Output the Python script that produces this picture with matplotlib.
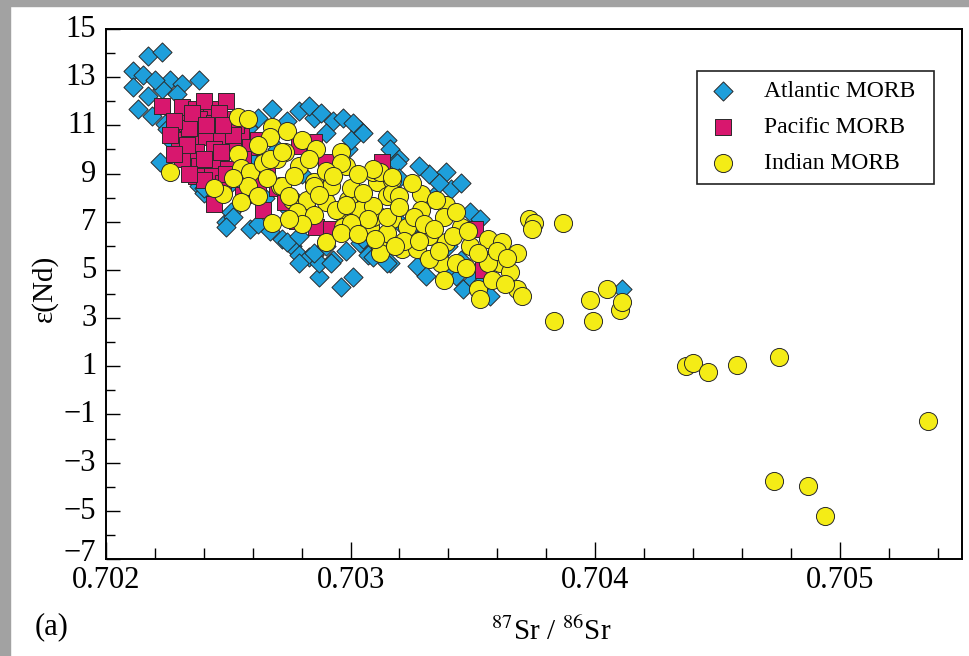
import numpy as np
import matplotlib
matplotlib.use("Agg")
import matplotlib.pyplot as plt
from matplotlib.patches import Rectangle
from matplotlib.transforms import ScaledTranslation
from matplotlib.ticker import MultipleLocator, FixedLocator, FormatStrFormatter

plt.rcParams['font.family'] = ['Liberation Serif', 'DejaVu Serif']
plt.rcParams['mathtext.fontset'] = 'stix'

# 87Sr/86Sr vs eps(Nd) for MORB, by ocean basin
atlantic = [
    (0.70217, 13.9), (0.70223, 14.05), (0.70211, 13.25), (0.70215, 13.1), (0.70226, 12.9),
    (0.70231, 12.7), (0.70238, 12.9), (0.70211, 12.6), (0.70217, 12.2), (0.70223, 12.5),
    (0.70213, 11.7), (0.70219, 11.4), (0.70224, 11.05), (0.70222, 9.47), (0.70238, 8.5),
    (0.70225, 10.85), (0.70227, 10.3), (0.70240, 8.2), (0.70220, 12.9), (0.70229, 12.3),
    (0.70249, 7.0), (0.70251, 7.4), (0.70259, 6.7), (0.70240, 8.4), (0.70252, 7.2), (0.70249, 6.8),
    (0.70268, 11.7), (0.70279, 11.6), (0.70285, 11.3), (0.70293, 11.2), (0.70297, 11.3),
    (0.70304, 10.8), (0.70315, 10.4), (0.70316, 10.0), (0.70299, 10.0), (0.70301, 11.1),
    (0.70300, 10.4), (0.70305, 10.7), (0.70320, 9.6), (0.70319, 9.45), (0.70274, 11.2),
    (0.70283, 11.8), (0.70290, 10.7), (0.70262, 11.3), (0.70258, 10.9), (0.70288, 11.5),
    (0.70332, 8.97), (0.70339, 9.05), (0.70341, 8.35), (0.70334, 8.05), (0.70349, 7.4),
    (0.70353, 7.1), (0.70324, 6.7), (0.70345, 8.6), (0.70328, 9.3), (0.70336, 8.6),
    (0.70272, 6.3), (0.70276, 6.0), (0.70279, 5.6), (0.70285, 5.6), (0.70287, 4.7),
    (0.70296, 4.3), (0.70301, 4.7), (0.70293, 5.4), (0.70316, 5.3), (0.70307, 5.6),
    (0.70274, 6.15), (0.70279, 6.4), (0.70283, 5.55), (0.70279, 5.3), (0.70287, 5.3),
    (0.70292, 5.3), (0.70309, 5.55), (0.70285, 5.7), (0.70315, 5.3), (0.70267, 6.6),
    (0.70262, 6.9), (0.70290, 6.0), (0.70298, 5.8), (0.70304, 6.1),
    (0.70327, 5.15), (0.70331, 4.75), (0.70343, 4.75), (0.70346, 4.2), (0.70357, 3.9),
    (0.70350, 4.6), (0.70339, 5.0), (0.70336, 5.6), (0.70353, 4.4), (0.70345, 5.4), (0.70355, 5.0),
    (0.70260, 9.5), (0.70270, 10.0), (0.70280, 9.0), (0.70290, 8.5), (0.70300, 8.0),
    (0.70310, 7.5), (0.70320, 7.0), (0.70330, 6.5), (0.70340, 6.0), (0.70265, 8.0),
    (0.70275, 7.5), (0.70285, 7.0), (0.70295, 6.6), (0.70305, 6.3), (0.70245, 9.5),
    (0.70250, 8.5), (0.70330, 7.7), (0.70320, 8.8),
    (0.70411, 4.19),
]

pacific = [
    (0.70223, 11.8), (0.70231, 11.75), (0.70237, 11.7), (0.70243, 11.7), (0.70249, 12.0),
    (0.70233, 11.1), (0.70238, 11.25), (0.70244, 11.1), (0.70251, 11.25), (0.70230, 10.4),
    (0.70236, 10.55), (0.70241, 10.5), (0.70247, 10.4), (0.70255, 10.55), (0.70230, 10.0),
    (0.70237, 9.9), (0.70244, 10.0), (0.70259, 10.1), (0.70231, 9.6), (0.70238, 9.3),
    (0.70245, 9.45), (0.70243, 8.9), (0.70237, 8.9), (0.70244, 7.75), (0.70262, 10.4),
    (0.70252, 10.0), (0.70266, 9.05), (0.70279, 10.15), (0.70285, 10.3), (0.70290, 9.5),
    (0.70313, 9.5), (0.70264, 7.5), (0.70278, 7.05), (0.70286, 6.8), (0.70292, 6.7),
    (0.70240, 8.75), (0.70351, 6.7), (0.70354, 5.0), (0.70250, 9.2), (0.70256, 9.6),
    (0.70248, 8.6), (0.70234, 10.9), (0.70240, 12.0), (0.70228, 11.2), (0.70253, 11.0),
    (0.70260, 9.0), (0.70270, 8.4), (0.70273, 7.8), (0.70282, 7.4), (0.70256, 8.1),
    (0.70262, 8.6), (0.70226, 10.6), (0.70233, 10.2), (0.70240, 9.6), (0.70247, 9.9),
    (0.70252, 10.6), (0.70246, 11.5), (0.70235, 11.5), (0.70241, 11.0), (0.70248, 11.0),
    (0.70228, 9.8), (0.70234, 9.0), (0.70249, 9.0),
]

indian = [
    (0.70226, 9.05),
    (0.70254, 11.35), (0.70258, 11.25), (0.70268, 10.95), (0.70274, 10.75), (0.70267, 10.5),
    (0.70273, 9.9), (0.70296, 9.9), (0.70298, 9.3), (0.70254, 9.8), (0.70255, 9.25),
    (0.70259, 9.05), (0.70264, 9.45), (0.70270, 9.6), (0.70279, 9.3), (0.70285, 8.65),
    (0.70258, 8.5), (0.70262, 8.05), (0.70248, 8.15), (0.70255, 7.8), (0.70271, 8.5),
    (0.70276, 7.9), (0.70282, 7.9), (0.70290, 7.8), (0.70296, 7.4), (0.70301, 7.4),
    (0.70305, 7.8), (0.70311, 8.65), (0.70309, 9.05), (0.70317, 8.75), (0.70315, 8.05),
    (0.70268, 6.95), (0.70290, 6.15), (0.70299, 6.7), (0.70308, 6.8), (0.70312, 5.85),
    (0.70317, 7.1), (0.70267, 9.6), (0.70272, 8.5), (0.70275, 8.05), (0.70278, 7.4),
    (0.70294, 7.5), (0.70297, 6.8), (0.70299, 7.9), (0.70304, 7.5), (0.70309, 7.2),
    (0.70312, 5.7), (0.70315, 6.55), (0.70312, 9.05), (0.70317, 8.2), (0.70296, 9.45),
    (0.70292, 8.5), (0.70272, 9.9),
    (0.70309, 9.2), (0.70317, 8.85), (0.70329, 8.15), (0.70320, 8.05), (0.70339, 7.7),
    (0.70338, 7.2), (0.70345, 6.8), (0.70329, 7.5), (0.70323, 6.8), (0.70315, 7.2),
    (0.70309, 7.65), (0.70307, 7.1), (0.70300, 6.95), (0.70296, 6.55), (0.70321, 5.85),
    (0.70332, 6.4), (0.70339, 6.15), (0.70349, 6.0), (0.70356, 6.3), (0.70362, 6.15),
    (0.70368, 5.7), (0.70361, 5.3), (0.70365, 4.9), (0.70368, 4.2), (0.70370, 3.9),
    (0.70356, 5.3), (0.70352, 4.2), (0.70353, 3.8), (0.70337, 5.3), (0.70338, 4.6),
    (0.70343, 5.3), (0.70327, 5.85), (0.70332, 5.45), (0.70285, 8.5),
    (0.70262, 10.2), (0.70280, 10.4), (0.70286, 10.0), (0.70290, 9.1), (0.70283, 9.6),
    (0.70277, 8.9), (0.70266, 8.8), (0.70252, 8.8), (0.70244, 8.4), (0.70287, 8.1),
    (0.70293, 8.9), (0.70300, 8.4), (0.70303, 9.0), (0.70305, 8.2), (0.70298, 7.7),
    (0.70285, 7.3), (0.70280, 6.9), (0.70275, 7.1), (0.70303, 6.5), (0.70310, 6.3),
    (0.70320, 7.6), (0.70325, 8.6), (0.70326, 7.2), (0.70330, 6.9), (0.70334, 6.7),
    (0.70335, 7.9), (0.70342, 6.4), (0.70343, 7.4), (0.70348, 6.6), (0.70352, 5.7),
    (0.70347, 5.1), (0.70322, 6.2), (0.70318, 6.0), (0.70328, 6.2), (0.70336, 5.8),
    (0.70360, 5.8), (0.70364, 5.5), (0.70358, 4.6), (0.70363, 4.4),
    (0.70373, 7.1), (0.70375, 6.95), (0.70374, 6.7), (0.70387, 6.95),
    (0.70383, 2.86), (0.70399, 2.86), (0.70398, 3.77), (0.70405, 4.19), (0.70410, 3.32),
    (0.70411, 3.65), (0.70437, 1.03), (0.70440, 1.15), (0.70446, 0.78), (0.70458, 1.07),
    (0.70475, 1.40), (0.70473, -3.75), (0.70487, -3.96), (0.70494, -5.21), (0.70536, -1.26),
]

series = [
    ('Atlantic MORB', atlantic, 'D', '#1e9fdb', 95),
    ('Pacific MORB', pacific, 's', '#d8176e', 135),
    ('Indian MORB', indian, 'o', '#f4ec16', 170),
]

fig = plt.figure(figsize=(9.69, 6.56), dpi=100)
# grey scan border on the left and top
fig.add_artist(Rectangle((0, 0), 10 / 969, 1, transform=fig.transFigure,
                         color='#a2a2a2', zorder=0))
fig.add_artist(Rectangle((0, 1 - 6 / 656), 1, 6 / 656, transform=fig.transFigure,
                         color='#a2a2a2', zorder=0))

ax = fig.add_axes([106 / 969, 1 - 559 / 656, 856 / 969, 530 / 656])

for name, pts, mk, col, sz in series:
    arr = np.array(pts)
    ax.scatter(arr[:, 0], arr[:, 1], marker=mk, s=sz, c=col,
               edgecolors='#2a2a2a', linewidths=0.7, label=name)

ax.set_xlim(0.702, 0.7055)
ax.set_ylim(-7, 15)
ax.xaxis.set_major_locator(MultipleLocator(0.001))
ax.xaxis.set_minor_locator(MultipleLocator(0.0002))
ax.xaxis.set_major_formatter(FormatStrFormatter('%.3f'))
ax.yaxis.set_major_locator(FixedLocator(np.arange(-7, 16, 2)))
ax.yaxis.set_minor_locator(MultipleLocator(1))
ax.yaxis.set_major_formatter(lambda v, p: f'{int(round(v))}'.replace('-', '\u2212'))

for s in ax.spines.values():
    s.set_linewidth(1.4)
ax.tick_params(axis='both', which='both', direction='in', width=1.0,
               labelsize=22, top=False, right=False)
ax.tick_params(axis='x', which='major', length=12, pad=5)
ax.tick_params(axis='x', which='minor', length=8)
ax.tick_params(axis='y', which='major', length=10, pad=7)
ax.tick_params(axis='y', which='minor', length=6.5)

# y labels sit a little high; the bottom one is lifted clear of 0.702
for i, tick in enumerate(ax.yaxis.get_major_ticks()):
    dy = 9 if i == 0 else 3
    tick.label1.set_transform(tick.label1.get_transform()
                              + ScaledTranslation(0, dy / 100, fig.dpi_scale_trans))

ax.set_xlabel(r'$^{87}$Sr / $^{86}$Sr', fontsize=21)
ax.xaxis.set_label_coords(0.52, -0.11)
ax.set_ylabel('\u03b5(Nd)', fontsize=21)
ax.yaxis.set_label_coords(-0.056, 0.51)

fig.text(52 / 969, 1 - 627 / 656, '(a)', fontsize=22, ha='center', va='center')

leg = ax.legend(loc='upper left', mode='expand',
                bbox_to_anchor=(697 / 969, 1 - 181 / 656, 237 / 969, 110 / 656),
                bbox_transform=fig.transFigure, borderaxespad=0, fontsize=17,
                fancybox=False, edgecolor='#222222', framealpha=1,
                handlelength=1.4, handletextpad=1.0, labelspacing=0.6,
                borderpad=0.42, scatterpoints=1)
leg.get_frame().set_linewidth(1.2)

fig.savefig('out.png', dpi=100)
